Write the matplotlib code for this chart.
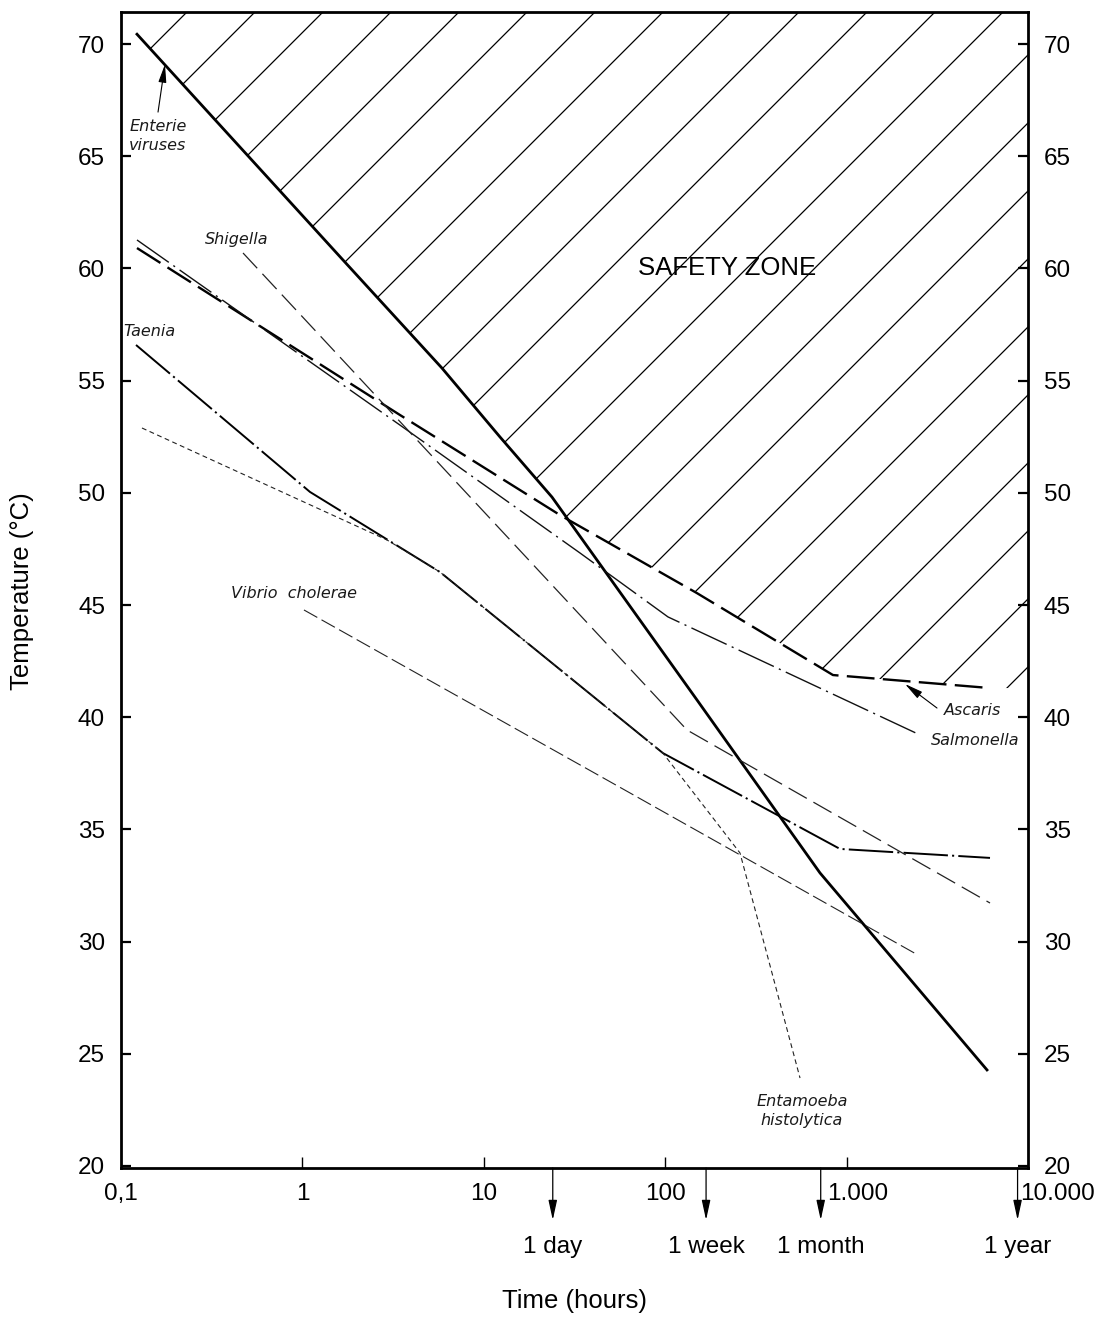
import numpy as np
import matplotlib
matplotlib.use("Agg")
import matplotlib.pyplot as plt
from matplotlib.patches import Polygon
from matplotlib.ticker import NullLocator

plt.rcParams['font.family'] = ['Liberation Sans', 'DejaVu Sans']
plt.rcParams['lines.scale_dashes'] = False

# survival curves: time (hours) vs temperature (°C)
enteric_x = [0.1225, 1.717, 5.88, 12.28, 23.77, 149.7, 713.5, 5943]
enteric_y = [70.44, 60.28, 55.56, 52.49, 49.81, 40.77, 33.06, 24.28]

ascaris_x = [0.1225, 3.45, 26.3, 149.7, 841, 6174]
ascaris_y = [60.91, 53.47, 49.01, 45.53, 41.88, 41.30]

salmonella_x = [0.1225, 3.45, 33.9, 103.6, 2539]
salmonella_y = [61.27, 53.02, 47.32, 44.47, 39.21]

shigella_x = [0.4706, 131.9, 6174]
shigella_y = [60.69, 39.43, 31.72]

taenia_x = [0.121, 1.101, 5.735, 97.2, 919.6, 6174]
taenia_y = [56.59, 50.04, 46.47, 38.40, 34.13, 33.73]

vibrio_x = [1.02, 47.8, 2475]
vibrio_y = [44.78, 37.20, 29.40]

entamoeba_x = [0.1305, 2.927, 5.735, 97.2, 258.4, 553.6]
entamoeba_y = [52.89, 47.90, 46.47, 38.40, 33.95, 23.92]

# axis ticks and the time markers under the axis
x_ticks = [0.1, 1, 10, 100, 1000, 10000]
x_ticklabels = ["0,1", "1", "10", "100", "1.000", "10.000"]
x_label_shift = [0, 0, 0, 0, 8, 21]
y_ticks = [20, 25, 30, 35, 40, 45, 50, 55, 60, 65, 70]
time_marks = [24, 168, 720, 8760]
time_labels = ["1 day", "1 week", "1 month", "1 year"]

W, H = 1109, 1318
fig = plt.figure(figsize=(W / 100, H / 100), dpi=100)
ax = fig.add_axes([121 / W, 150 / H, 907 / W, 1156 / H])
ax.set_xscale('log')
ax.set_xlim(0.1, 10000)
ax.set_ylim(19.91, 71.43)

# safety zone = above the envelope of enteric viruses and Ascaris
xs = np.logspace(np.log10(enteric_x[0]), 4, 600)
lx = np.log10(xs)
env = np.maximum(np.interp(lx, np.log10(enteric_x), enteric_y),
                 np.interp(lx, np.log10(ascaris_x), ascaris_y))
verts = list(zip(xs, env)) + [(1e4, 80), (enteric_x[0], 80)]
zone = Polygon(verts, closed=True, facecolor='none', edgecolor='none')
ax.add_patch(zone)

# hand-made 45 degree hatching, 68 px apart
axw, axh = 907.0, 1156.0
step = 68 / axw
x0 = -1.2018
while x0 < 1.0:
    ln, = ax.plot([x0, x0 + axh / axw], [0, 1], transform=ax.transAxes,
                  color='k', lw=0.9, zorder=1)
    ln.set_clip_path(zone)
    x0 += step

# curves
ax.plot(enteric_x, enteric_y, color='k', lw=2.0, zorder=3)
ax.plot(ascaris_x, ascaris_y, color='k', lw=1.7, dashes=(20, 6), zorder=3)
ax.plot(salmonella_x, salmonella_y, color='#111', lw=1.0, dashes=(28, 4, 1.5, 4), zorder=3)
ax.plot(taenia_x, taenia_y, color='k', lw=1.4, dashes=(32, 3, 1.5, 3), zorder=3)
ax.plot(shigella_x, shigella_y, color='#222', lw=0.9, dashes=(15, 5.5), zorder=3)
ax.plot(vibrio_x, vibrio_y, color='#222', lw=0.8, dashes=(11, 3.5), zorder=3)
ax.plot(entamoeba_x, entamoeba_y, color='#222', lw=0.8, dashes=(3.5, 2.5), zorder=3)

# curve labels
lab = dict(fontsize=11.5, style='italic', color='#1a1a1a', family='DejaVu Sans')
ax.text(0.160, 65.9, "Enterie\nviruses", ha='center', va='center', linespacing=1.4, **lab)
ax.text(0.436, 61.27, "Shigella", ha='center', va='center', **lab)
ax.text(0.1427, 57.17, "Taenia", ha='center', va='center', **lab)
ax.text(0.899, 45.53, "Vibrio  cholerae", ha='center', va='center', **lab)
ax.text(3443, 40.28, "Ascaris", ha='left', va='center', **lab)
ax.text(2919, 38.98, "Salmonella", ha='left', va='center', **lab)
ax.text(567.6, 22.45, "Entamoeba\nhistolytica", ha='center', va='center', linespacing=1.4, **lab)
ax.text(219, 60.02, "SAFETY ZONE", ha='center', va='center', fontsize=18.5)

arr = dict(arrowstyle='-|>,head_length=0.55,head_width=0.12', color='k', lw=0.8,
           shrinkA=0, shrinkB=0, mutation_scale=20)
ax.annotate('', xy=(0.1748, 69.1), xytext=(0.160, 66.97), arrowprops=arr)
ax.annotate('', xy=(2099, 41.48), xytext=(3150, 40.41), arrowprops=arr)

# axes frame and ticks
for s in ax.spines.values():
    s.set_linewidth(2.0)
ax.xaxis.set_minor_locator(NullLocator())
ax.yaxis.set_minor_locator(NullLocator())
ax.set_xticks([1, 10, 100, 1000])
ax.set_yticks(y_ticks)
ax.tick_params(axis='x', which='major', direction='in', length=8, width=1.0,
               labelbottom=False, top=False)
ax.tick_params(axis='y', which='major', direction='in', length=7.5, width=1.6,
               left=True, right=True, labelleft=True, labelright=True,
               labelsize=17.5, pad=11.5)

for xv, txt, dx in zip(x_ticks, x_ticklabels, x_label_shift):
    ax.annotate(txt, xy=(xv, 0), xycoords=('data', 'axes fraction'),
                xytext=(dx, -23), textcoords='offset points',
                ha='center', va='baseline', fontsize=17.5, annotation_clip=False)

for xv, txt in zip(time_marks, time_labels):
    ax.annotate('', xy=(xv, -0.045), xycoords=('data', 'axes fraction'),
                xytext=(xv, 0), textcoords=('data', 'axes fraction'),
                arrowprops=dict(arrowstyle='-|>,head_length=0.6,head_width=0.13',
                                color='k', lw=0.9, shrinkA=0, shrinkB=0,
                                mutation_scale=20),
                annotation_clip=False)
    ax.annotate(txt, xy=(xv, 0), xycoords=('data', 'axes fraction'),
                xytext=(0, -61), textcoords='offset points',
                ha='center', va='baseline', fontsize=17.5, annotation_clip=False)

fig.text(22 / W, 1 - 591 / H, "Temperature (°C)", rotation=90,
         ha='center', va='center', fontsize=18.5)
fig.text(575 / W, 10 / H, "Time (hours)", ha='center', va='baseline', fontsize=18.5)

fig.savefig("out.png", dpi=100)
